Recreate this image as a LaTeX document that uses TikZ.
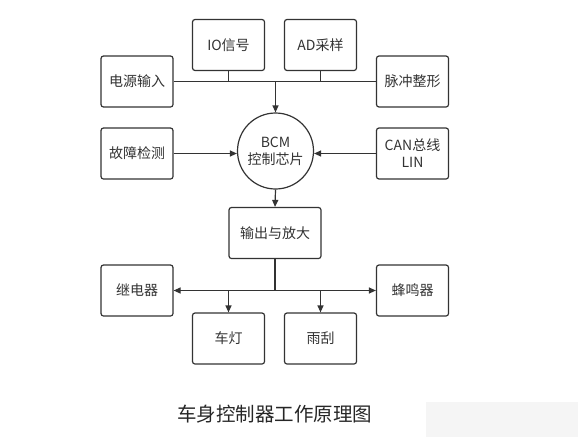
\documentclass[tikz,border=0pt]{standalone}
\usepackage{fontspec}
\newfontfamily\cjk{Noto Sans CJK SC}
\usetikzlibrary{arrows.meta}
\definecolor{linegray}{HTML}{333333}

\tikzset{
  blk/.style={draw=linegray, line width=1.2pt, rounded corners=2.5pt, minimum width=72pt, minimum height=51pt, font=\cjk\fontsize{14}{17}\selectfont, text=linegray, align=center},
  chip/.style={draw=linegray, line width=1.2pt, circle, minimum size=76pt, font=\cjk\fontsize{14}{17}\selectfont, text=linegray, align=center},
  ln/.style={draw=linegray, line width=1.2pt},
  arr/.style={ln, -{Triangle[length=7pt,width=6pt]}}
}

\begin{document}
\begin{tikzpicture}[x=1pt,y=-1pt]

\fill[white] (0,0) rectangle (585,442);
\useasboundingbox (0,0) rectangle (585,442);

% inputs
\node[blk] (io) at (228.5,45) {IO信号};
\node[blk] (ad) at (320.5,45) {AD采样};
\node[blk] (pwr) at (137,81.5) {电源输入};
\node[blk] (pulse) at (412.5,81.5) {脉冲整形};
\node[blk] (fault) at (137,153.5) {故障检测};
\node[blk] (can) at (412.5,153.5) {CAN总线\\LIN};

% chip
\node[chip] (bcm) at (275.5,151) {BCM\\控制芯片};

% outputs
\node[blk, minimum width=92pt] (out) at (275,233) {输出与放大};
\node[blk] (relay) at (137,290.5) {继电器};
\node[blk] (buzz) at (412.5,290.5) {蜂鸣器};
\node[blk] (lamp) at (228.5,338.5) {车灯};
\node[blk] (wiper) at (320.5,338.5) {雨刮};

% top bus
\draw[ln] (pwr.east) -- (pulse.west);
\draw[ln] (io.south) -- (io.south |- pwr.east);
\draw[ln] (ad.south) -- (ad.south |- pwr.east);
\draw[arr] (bcm.north |- pwr.east) -- (bcm.north);

% side inputs
\draw[arr] (fault.east) -- (fault.east -| bcm.west);
\draw[arr] (can.west) -- (can.west -| bcm.east);

% output bus
\draw[arr] (bcm.south) -- (out.north);
\draw[ln] (out.south) -- (out.south |- relay.east) coordinate (hub);
\draw[arr] (hub) -- (relay.east);
\draw[arr] (hub) -- (buzz.west);
\draw[arr] (lamp.north |- relay.east) -- (lamp.north);
\draw[arr] (wiper.north |- relay.east) -- (wiper.north);

% caption
\node[font=\cjk\fontsize{19.5}{22}\selectfont, text=black!85] (title) at (274.5,414) {车身控制器工作原理图};
\fill[black!4] (426,402) rectangle (578,437);

\end{tikzpicture}
\end{document}
